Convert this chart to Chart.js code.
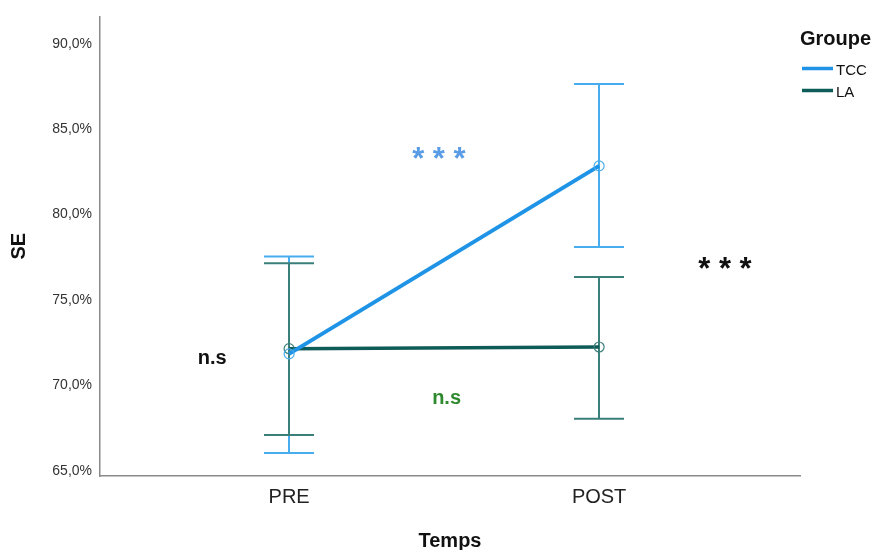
<!DOCTYPE html>
<html lang="fr">
<head>
<meta charset="UTF-8"/>
<title>SE par Temps et Groupe</title>
<script src="https://cdn.jsdelivr.net/npm/chart.js@4.4.2/dist/chart.umd.min.js"></script>
<style>
html,body{margin:0;padding:0;background:#fff}
#wrap{width:876px;height:550px;position:relative}
</style>
</head>
<body>
<div id="wrap"><canvas id="chart" width="876" height="550"></canvas></div>
<script>
// valeurs (en %)
const categories=['PRE','POST'];
const groups=['TCC','LA'];
const tccMean=[71.85,82.85];
const tccLow=[66.05,78.1];
const tccHigh=[77.55,87.65];
const laMean=[72.15,72.25];
const laLow=[67.1,68.05];
const laHigh=[77.15,76.35];
const yTicks=[65,70,75,80,85,90];

const FONT='"Liberation Sans",Arial,sans-serif';
const fmt=v=>v.toFixed(1).replace('.',',')+'%';
const pts=arr=>arr.map((v,i)=>({x:i,y:v}));

const series=[
  {mean:tccMean,low:tccLow,high:tccHigh,line:'#1f93e6',bar:'#48adee'},
  {mean:laMean,low:laLow,high:laHigh,line:'#0d5c58',bar:'#3b7f7b'}
];

// annotations de significativité, placées en unités des axes
const notes=[
  {text:'* * *',x:0.483,y:83.59,color:'#5a9de6',font:'bold 31px '+FONT},
  {text:'* * *',x:1.406,y:77.17,color:'#111',font:'bold 31px '+FONT},
  {text:'n.s',x:-0.248,y:71.6,color:'#111',font:'bold 20px '+FONT},
  {text:'n.s',x:0.508,y:69.22,color:'#2f8a2f',font:'bold 20px '+FONT}
];

const errorBars={
  id:'errorBars',
  beforeDatasetsDraw(chart){
    const {ctx,scales:{x,y}}=chart;
    ctx.save();
    ctx.lineWidth=2;
    series.forEach(s=>{
      ctx.strokeStyle=s.bar;
      s.mean.forEach((m,i)=>{
        const px=Math.round(x.getPixelForValue(i));
        const top=y.getPixelForValue(s.high[i]), bot=y.getPixelForValue(s.low[i]);
        ctx.beginPath();
        ctx.moveTo(px,top);ctx.lineTo(px,bot);
        ctx.moveTo(px-25,top);ctx.lineTo(px+25,top);
        ctx.moveTo(px-25,bot);ctx.lineTo(px+25,bot);
        ctx.stroke();
      });
    });
    ctx.restore();
  },
  afterDraw(chart){
    const {ctx,scales:{x,y}}=chart;
    ctx.save();
    ctx.textAlign='center';ctx.textBaseline='alphabetic';
    notes.forEach(n=>{
      ctx.font=n.font;ctx.fillStyle=n.color;
      const m=ctx.measureText(n.text);
      const dy=(m.actualBoundingBoxAscent-m.actualBoundingBoxDescent)/2;
      ctx.fillText(n.text,x.getPixelForValue(n.x),y.getPixelForValue(n.y)+dy);
    });
    // légende
    ctx.textAlign='left';
    ctx.fillStyle='#111';
    ctx.font='bold 20px '+FONT;
    ctx.fillText('Groupe',800,45);
    ctx.font='15px '+FONT;
    groups.forEach((g,i)=>{
      const ly=68.5+i*22;
      ctx.strokeStyle=series[i].line;ctx.lineWidth=3.5;
      ctx.beginPath();ctx.moveTo(802,ly);ctx.lineTo(833,ly);ctx.stroke();
      ctx.fillStyle='#111';
      ctx.fillText(g,836,ly+6);
    });
    ctx.restore();
  }
};

new Chart(document.getElementById('chart'),{
  type:'line',
  data:{datasets:[
    {label:groups[0],data:pts(tccMean),borderColor:series[0].line,borderWidth:4,
     pointRadius:5,pointBorderWidth:1.2,pointBackgroundColor:'rgba(0,0,0,0)',pointBorderColor:series[0].bar},
    {label:groups[1],data:pts(laMean),borderColor:series[1].line,borderWidth:3.5,
     pointRadius:5,pointBorderWidth:1.2,pointBackgroundColor:'rgba(0,0,0,0)',pointBorderColor:series[1].bar}
  ]},
  options:{
    responsive:false,animation:false,
    layout:{padding:{top:15,right:76,left:0,bottom:0}},
    plugins:{legend:{display:false},tooltip:{enabled:false}},
    scales:{
      x:{type:'linear',min:-0.61,max:1.648,
        grid:{display:false,drawTicks:false},
        border:{display:true,color:'#8a8a8a',width:1.5},
        afterFit:s=>{s.height=74;},
        afterBuildTicks:s=>{s.ticks=categories.map((c,i)=>({value:i}));},
        ticks:{padding:9,color:'#222',font:{family:FONT,size:20},
          callback:v=>categories[v]},
        title:{display:true,text:'Temps',color:'#111',padding:{top:0,bottom:-3},
          font:{family:FONT,size:20,weight:'bold'}}
      },
      y:{min:64.7,max:91.6,
        grid:{display:false,drawTicks:false},
        border:{display:true,color:'#8a8a8a',width:1.5},
        afterFit:s=>{s.width=100;},
        afterBuildTicks:s=>{s.ticks=yTicks.map(v=>({value:v}));},
        ticks:{padding:8,color:'#333',font:{family:FONT,size:14},
          callback:v=>fmt(v)},
        title:{display:true,text:'SE',color:'#111',padding:{top:7,bottom:0},
          font:{family:FONT,size:20,weight:'bold'}}
      }
    }
  },
  plugins:[errorBars]
});
</script>
</body>
</html>
